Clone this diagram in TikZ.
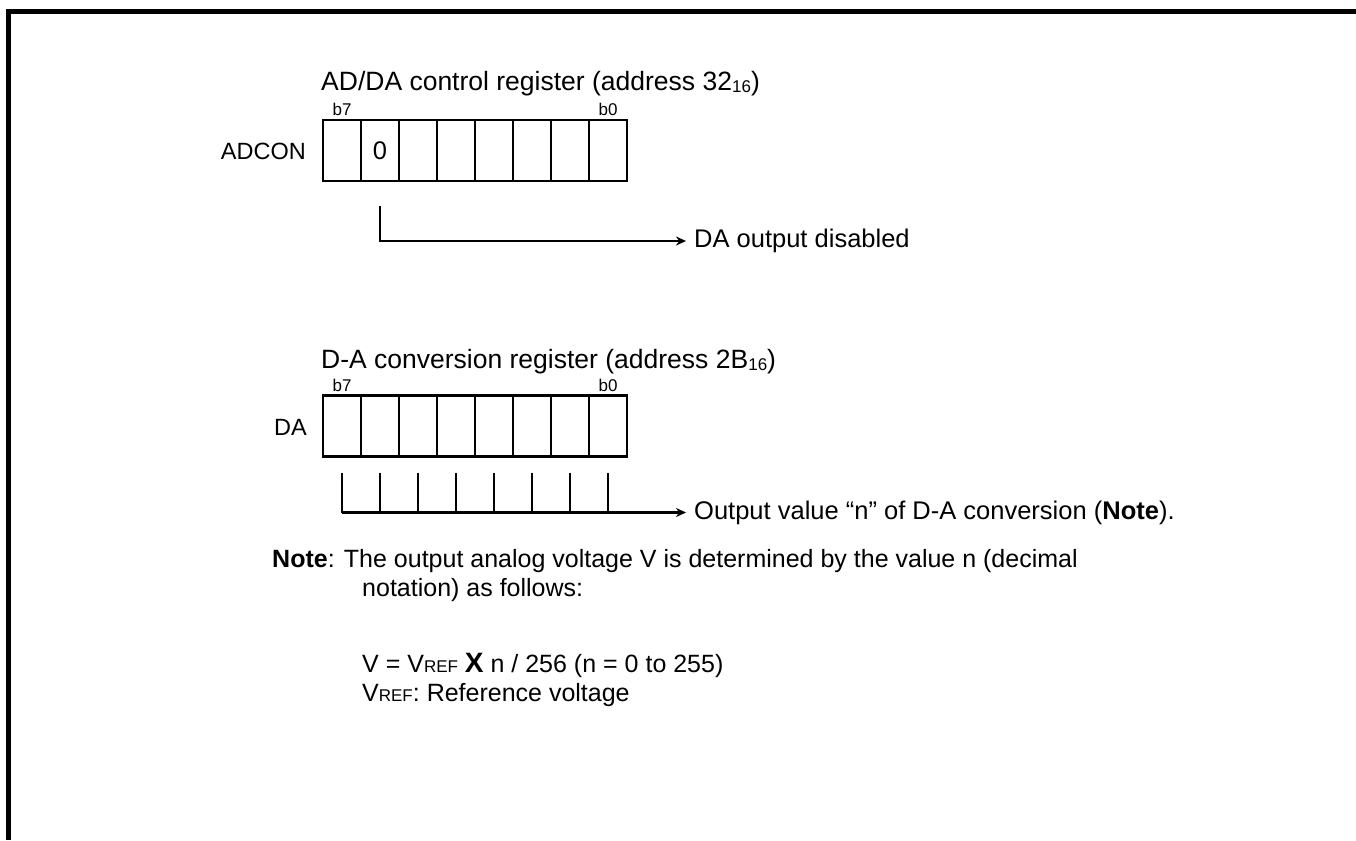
\documentclass[tikz,border=0pt]{standalone}
\usepackage{fontspec}
\setmainfont{Liberation Sans}
\usetikzlibrary{arrows.meta}
\newcommand\subsc[1]{\raisebox{-2pt}{\fontsize{17}{17}\selectfont #1}}
\newcommand\vref{V{\fontsize{17}{17}\selectfont REF}}
\begin{document}
\begin{tikzpicture}[x=1pt,y=-1pt,
  txt/.style={inner sep=0pt,font=\fontsize{25.5}{30}\selectfont},
  note/.style={inner sep=0pt,font=\fontsize{25}{30}\selectfont},
  lbl/.style={inner sep=0pt,font=\fontsize{23.5}{28}\selectfont},
  bit/.style={inner sep=0pt,font=\fontsize{17}{17}\selectfont},
  cell/.style={draw,line width=2.4pt,minimum width=38pt,minimum height=61pt,inner sep=0pt,outer sep=0pt,font=\fontsize{25}{30}\selectfont},
  conn/.style={line width=2.4pt},
  arr/.style={line width=2.4pt,-{Stealth[length=10pt,width=9pt]}}]
\useasboundingbox (0,0) rectangle (1356,840);
\draw[line width=5pt] (8.5,840) -- (8.5,11.5) -- (1356,11.5);

% ADCON register
\node[txt,anchor=base west,font=\fontsize{26.5}{30}\selectfont] (t1) at (321,91) {AD/DA control register (address 32\subsc{16})};
\foreach \i in {1,...,8} {
  \node[cell] (a\i) at ({323+38*(\i-1)+19},150.5) {};
}
\node[txt] (zero) at (a2.center) {0};
\node[bit,anchor=base] (a7b) at ([yshift=4pt]a1.north) {b7};
\node[bit,anchor=base] (a0b) at ([yshift=4pt]a8.north) {b0};
\node[lbl,anchor=east] (adcon) at (306,151) {ADCON};
\coordinate (c1) at ([yshift=-25pt]a2.south);
\node[txt,anchor=west] (dis) at (694,241) {DA output disabled};
\draw[arr] (c1) |- ([xshift=-8pt]dis.west);

% DA register
\node[txt,anchor=base west,font=\fontsize{26.5}{30}\selectfont] (t2) at (321,368) {D-A conversion register (address 2B\subsc{16})};
\foreach \i in {1,...,8} {
  \node[cell] (d\i) at ({323+38*(\i-1)+19},426) {};
}
\node[bit,anchor=base] (d7b) at ([yshift=4pt]d1.north) {b7};
\node[bit,anchor=base] (d0b) at ([yshift=4pt]d8.north) {b0};
\node[lbl,anchor=east] (dal) at (307,427) {DA};
\node[txt,anchor=west] (outv) at (694,513) {Output value “n” of D-A conversion (\textbf{Note}).};
\foreach \i in {1,...,8} {
  \coordinate (tt\i) at ([yshift=-16pt]d\i.south);
  \coordinate (tb\i) at ([yshift=-56pt]d\i.south);
  \draw[conn] (tt\i) -- (tb\i);
}
\draw[arr] (tb1) -- ([xshift=-8pt]outv.west |- tb1);

% Note
\node[note,anchor=base west] (n1) at (272,567) {\textbf{Note}: The output analog voltage V is determined by the value n (decimal};
\node[note,anchor=base west] (n2) at (362,596) {notation) as follows:};
\node[note,anchor=base west] (n3) at (362,672) {V = \vref{} {\fontsize{28}{30}\selectfont\textbf{X}} n / 256 (n = 0 to 255)};
\node[note,anchor=base west] (n4) at (362,701) {\vref: Reference voltage};
\end{tikzpicture}
\end{document}
